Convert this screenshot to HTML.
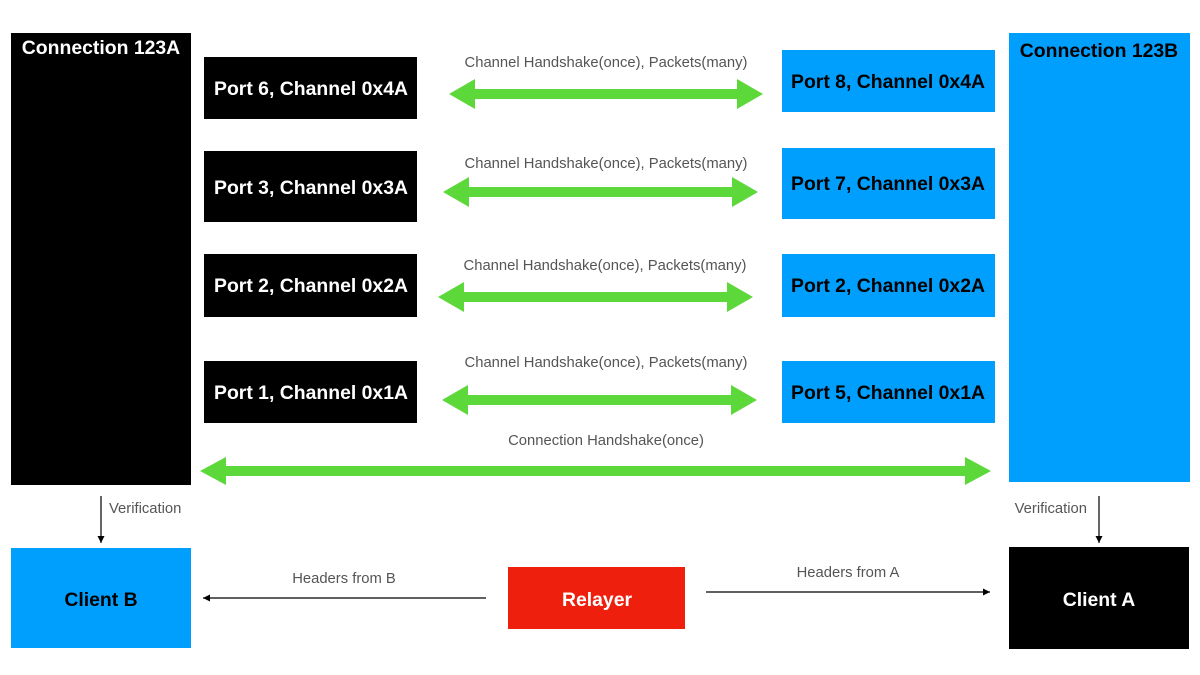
<!DOCTYPE html>
<html><head><meta charset="utf-8"><style>
html,body{margin:0;padding:0;background:#fff;}
svg{display:block;}
text{font-family:"Liberation Sans",Arial,sans-serif;}
.b{font-weight:bold;font-size:19.4px;}
.l{font-size:14.8px;fill:#555;}
</style></head><body>
<svg width="1200" height="675" viewBox="0 0 1200 675" xmlns="http://www.w3.org/2000/svg">
<defs>
<marker id="ah" viewBox="0 0 10 10" refX="10" refY="5" markerWidth="7" markerHeight="7" orient="auto" markerUnits="userSpaceOnUse"><path d="M0,0 L10,5 L0,10 z" fill="#000"/></marker>
</defs>
<rect x="11" y="33" width="180" height="452" fill="#000"/>
<text x="101" y="54" class="b" fill="#fff" text-anchor="middle">Connection 123A</text>
<rect x="1009" y="33" width="181" height="449" fill="#009ffe"/>
<text x="1099" y="57" class="b" fill="#000" text-anchor="middle">Connection 123B</text>
<rect x="204" y="57" width="213" height="62" fill="#000"/>
<text x="311" y="95" class="b" fill="#fff" text-anchor="middle">Port 6, Channel 0x4A</text>
<rect x="204" y="151" width="213" height="71" fill="#000"/>
<text x="311" y="194" class="b" fill="#fff" text-anchor="middle">Port 3, Channel 0x3A</text>
<rect x="204" y="254" width="213" height="63" fill="#000"/>
<text x="311" y="292" class="b" fill="#fff" text-anchor="middle">Port 2, Channel 0x2A</text>
<rect x="204" y="361" width="213" height="62" fill="#000"/>
<text x="311" y="399" class="b" fill="#fff" text-anchor="middle">Port 1, Channel 0x1A</text>
<rect x="782" y="50" width="213" height="62" fill="#009ffe"/>
<text x="888" y="88" class="b" fill="#000" text-anchor="middle">Port 8, Channel 0x4A</text>
<rect x="782" y="148" width="213" height="71" fill="#009ffe"/>
<text x="888" y="190" class="b" fill="#000" text-anchor="middle">Port 7, Channel 0x3A</text>
<rect x="782" y="254" width="213" height="63" fill="#009ffe"/>
<text x="888" y="292" class="b" fill="#000" text-anchor="middle">Port 2, Channel 0x2A</text>
<rect x="782" y="361" width="213" height="62" fill="#009ffe"/>
<text x="888" y="399" class="b" fill="#000" text-anchor="middle">Port 5, Channel 0x1A</text>
<g fill="#5cd83a">
<path d="M449,94 L475,79 L475,89 L737,89 L737,79 L763,94 L737,109 L737,99 L475,99 L475,109 z"/>
<path d="M443,192 L469,177 L469,187 L732,187 L732,177 L758,192 L732,207 L732,197 L469,197 L469,207 z"/>
<path d="M438,297 L464,282 L464,292 L727,292 L727,282 L753,297 L727,312 L727,302 L464,302 L464,312 z"/>
<path d="M442,400 L468,385 L468,395 L731,395 L731,385 L757,400 L731,415 L731,405 L468,405 L468,415 z"/>
<path d="M200,471 L226,457 L226,466 L965,466 L965,457 L991,471 L965,485 L965,476 L226,476 L226,485 z"/>
</g>
<text x="606" y="67" class="l" text-anchor="middle">Channel Handshake(once), Packets(many)</text>
<text x="606" y="168" class="l" text-anchor="middle">Channel Handshake(once), Packets(many)</text>
<text x="605" y="270" class="l" text-anchor="middle">Channel Handshake(once), Packets(many)</text>
<text x="606" y="367" class="l" text-anchor="middle">Channel Handshake(once), Packets(many)</text>
<text x="606" y="445" class="l" text-anchor="middle">Connection Handshake(once)</text>
<line x1="101" y1="496" x2="101" y2="543" stroke="#000" stroke-width="1.2" marker-end="url(#ah)"/>
<text x="109" y="513" class="l">Verification</text>
<line x1="1099" y1="496" x2="1099" y2="543" stroke="#000" stroke-width="1.2" marker-end="url(#ah)"/>
<text x="1087" y="513" class="l" text-anchor="end">Verification</text>
<rect x="11" y="548" width="180" height="100" fill="#009ffe"/>
<text x="101" y="606" class="b" fill="#000" text-anchor="middle">Client B</text>
<rect x="1009" y="547" width="180" height="102" fill="#000"/>
<text x="1099" y="606" class="b" fill="#fff" text-anchor="middle">Client A</text>
<rect x="508" y="567" width="177" height="62" fill="#ee200d"/>
<text x="597" y="606" class="b" fill="#fff" text-anchor="middle">Relayer</text>
<line x1="486" y1="598" x2="203" y2="598" stroke="#000" stroke-width="1.2" marker-end="url(#ah)"/>
<text x="344" y="583" class="l" text-anchor="middle">Headers from B</text>
<line x1="706" y1="592" x2="990" y2="592" stroke="#000" stroke-width="1.2" marker-end="url(#ah)"/>
<text x="848" y="577" class="l" text-anchor="middle">Headers from A</text>
</svg>
</body></html>
